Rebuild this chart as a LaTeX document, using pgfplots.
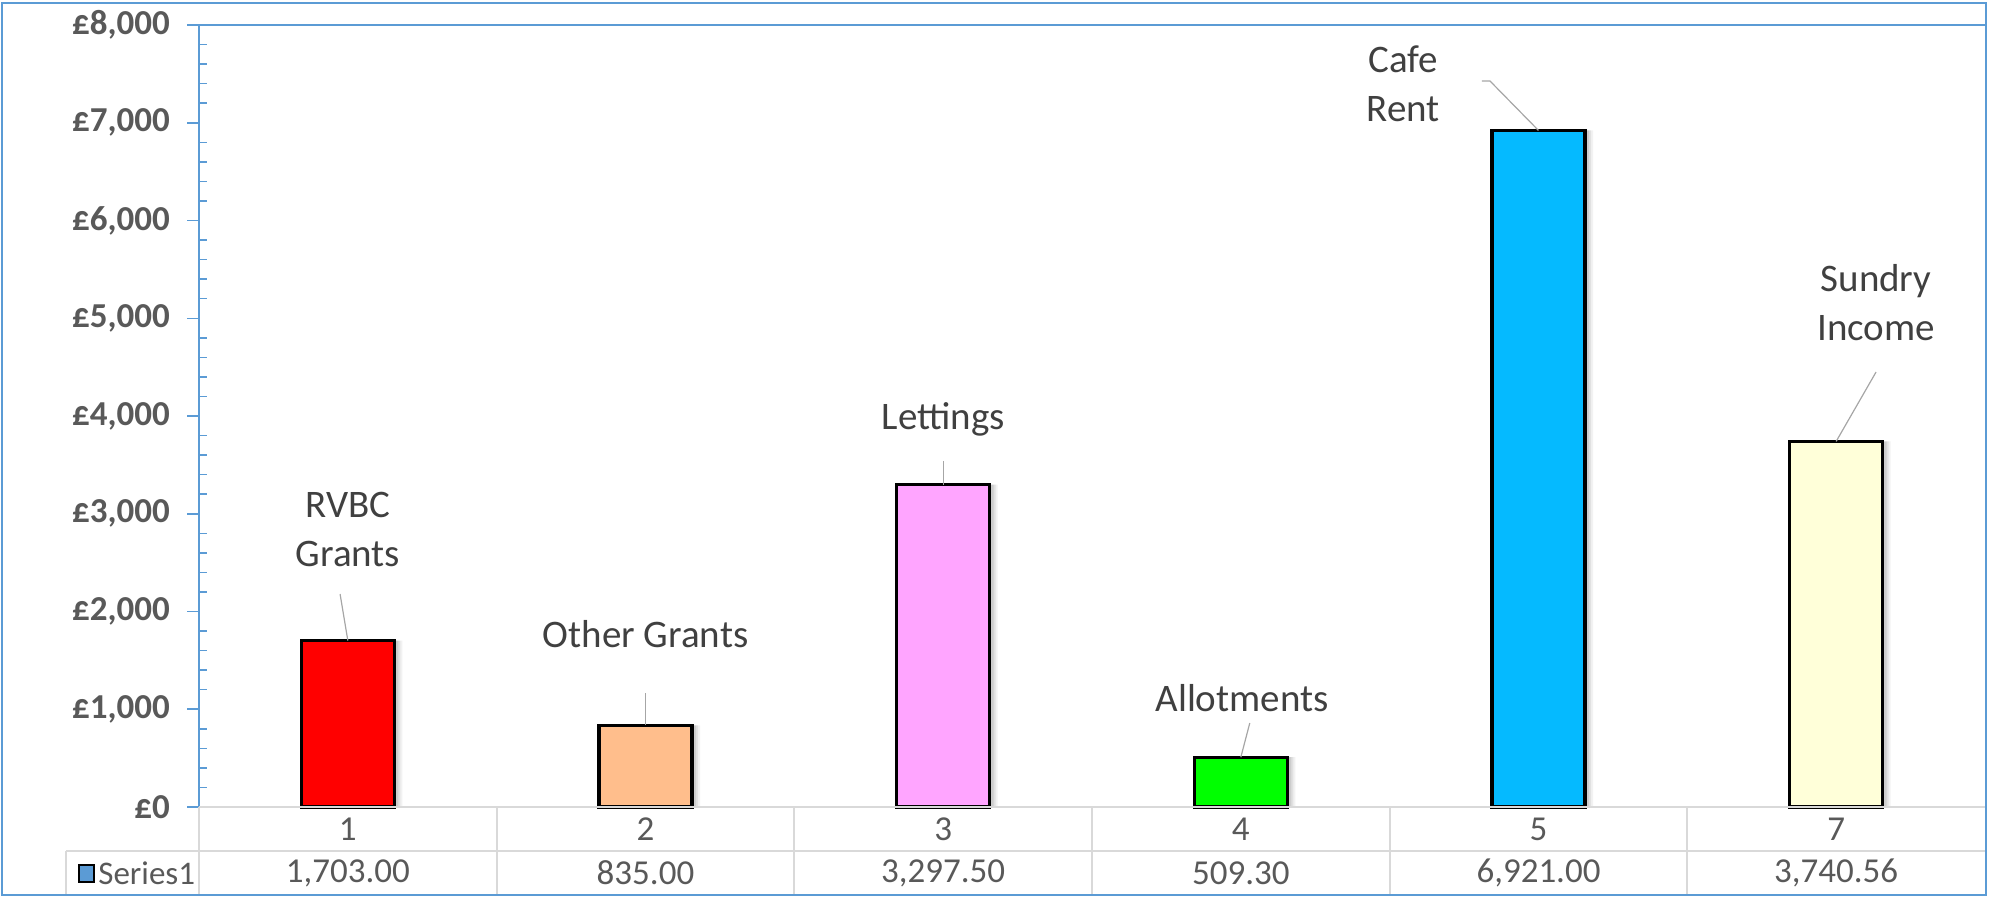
\documentclass[border=0pt]{standalone}
\usepackage{pgfplots}
\pgfplotsset{compat=1.18}
\usepackage{fontspec}
\setmainfont{Carlito}
\definecolor{frameblue}{HTML}{5B9BD5}
\definecolor{gridgray}{HTML}{D9D9D9}
\definecolor{ticktext}{HTML}{595959}
\definecolor{labeltext}{HTML}{404040}
\definecolor{leader}{HTML}{A6A6A6}
\definecolor{c1}{HTML}{FF0000}
\definecolor{c2}{HTML}{FFBE8C}
\definecolor{c3}{HTML}{FFA5FF}
\definecolor{c4}{HTML}{00FF00}
\definecolor{c5}{HTML}{05BAFF}
\definecolor{c6}{HTML}{FFFFD9}
\begin{document}
\begin{tikzpicture}[
  lab/.style={font=\fontsize{19.5}{24.5}\selectfont, text=labeltext, align=center},
  tab/.style={font=\fontsize{17.5}{21}\selectfont, text=ticktext},
  ld/.style={leader, line width=0.6pt},
  gl/.style={gridgray, line width=1pt}]
\useasboundingbox (0,0) rectangle (994.5pt,449pt);
\begin{axis}[
  at={(99.5pt,45.5pt)}, anchor=south west,
  width=893pt, height=391pt, scale only axis,
  xmin=0.5, xmax=6.5, ymin=0, ymax=8000,
  axis line style={draw=none},
  xtick={1,2,3,4,5,6}, xticklabels={1,2,3,4,5,7},
  xtick style={draw=none},
  xticklabel style={anchor=center, yshift=-5pt, font=\fontsize{17.5}{21}\selectfont, text=ticktext},
  ytick={0,1000,...,8000},
  minor y tick num=4,
  ytick pos=left,
  tick align=outside,
  major tick length=6pt, minor tick length=4pt,
  ytick style={draw=frameblue, line width=0.75pt},
  minor tick style={xshift=4pt},
  scaled y ticks=false,
  /pgf/number format/assume math mode=true,
  yticklabel={£\pgfmathprintnumber[fixed,precision=0,1000 sep={,}]{\tick}},
  yticklabel style={font=\fontsize{17.5}{20}\selectfont\bfseries, text=ticktext, xshift=-5pt},
  clip=false,
]
% shadows
\addplot[ybar, bar width=46.5pt, bar shift=2pt, fill=black, fill opacity=0.09, draw=none]
  coordinates {(1,1703) (2,835) (3,3297.5) (4,509.3) (5,6921) (6,3740.56)};
\addplot[ybar, bar width=46.5pt, bar shift=3pt, fill=black, fill opacity=0.07, draw=none]
  coordinates {(1,1703) (2,835) (3,3297.5) (4,509.3) (5,6921) (6,3740.56)};
\addplot[ybar, bar width=46.5pt, bar shift=4pt, fill=black, fill opacity=0.05, draw=none]
  coordinates {(1,1703) (2,835) (3,3297.5) (4,509.3) (5,6921) (6,3740.56)};
% bars
\addplot[ybar, bar width=46.5pt, bar shift=0pt, fill=c1, draw=black, line width=1.6pt] coordinates {(1,1703)};
\addplot[ybar, bar width=46.5pt, bar shift=0pt, fill=c2, draw=black, line width=1.6pt] coordinates {(2,835)};
\addplot[ybar, bar width=46.5pt, bar shift=0pt, fill=c3, draw=black, line width=1.6pt] coordinates {(3,3297.5)};
\addplot[ybar, bar width=46.5pt, bar shift=0pt, fill=c4, draw=black, line width=1.6pt] coordinates {(4,509.3)};
\addplot[ybar, bar width=46.5pt, bar shift=0pt, fill=c5, draw=black, line width=1.6pt] coordinates {(5,6921)};
\addplot[ybar, bar width=46.5pt, bar shift=0pt, fill=c6, draw=black, line width=1.6pt] coordinates {(6,3740.56)};
% axis lines
\draw[frameblue, line width=1pt] (rel axis cs:0,0) -- (rel axis cs:0,1);
\draw[frameblue, line width=1pt] (rel axis cs:0,1) -- (rel axis cs:1,1);
% data labels
\draw[ld] (axis cs:0.974,2179) -- (axis cs:1,1703);
\node[lab] at (axis cs:1,2844) {RVBC\\Grants};
\draw[ld] (axis cs:2,1166) -- (axis cs:2,835);
\node[lab] at (axis cs:2,1770) {Other Grants};
\draw[ld] (axis cs:3,3540) -- (axis cs:3,3297.5);
\node[lab] at (axis cs:3,3969) {Lettings};
\draw[ld] (axis cs:4.03,859) -- (axis cs:4,509.3);
\node[lab] at (axis cs:4.004,1115) {Allotments};
\draw[ld] (axis cs:4.81,7427) -- (axis cs:4.837,7427) -- (axis cs:5,6921);
\node[lab] at (axis cs:4.545,7396) {Cafe\\Rent};
\draw[ld] (axis cs:6.134,4450) -- (axis cs:6,3740.56);
\node[lab] at (axis cs:6.134,5156) {Sundry\\Income};
% data table
\draw[gl] (rel axis cs:0,0) -- (rel axis cs:1,0);
\draw[gl] ([xshift=-66.5pt,yshift=-22pt]rel axis cs:0,0) -- ([yshift=-22pt]rel axis cs:1,0);
\draw[gl] ([xshift=-66.5pt,yshift=-22pt]rel axis cs:0,0) -- ([xshift=-66.5pt,yshift=-44pt]rel axis cs:0,0);
\draw[gl] (rel axis cs:0,0) -- ([yshift=-44pt]rel axis cs:0,0);
\draw[gl] (rel axis cs:0.166667,0) -- ([yshift=-44pt]rel axis cs:0.166667,0);
\draw[gl] (rel axis cs:0.333333,0) -- ([yshift=-44pt]rel axis cs:0.333333,0);
\draw[gl] (rel axis cs:0.5,0) -- ([yshift=-44pt]rel axis cs:0.5,0);
\draw[gl] (rel axis cs:0.666667,0) -- ([yshift=-44pt]rel axis cs:0.666667,0);
\draw[gl] (rel axis cs:0.833333,0) -- ([yshift=-44pt]rel axis cs:0.833333,0);
\node[tab] at ([yshift=-33pt]axis cs:1,0) {1,703.00};
\node[tab] at ([yshift=-33pt]axis cs:2,0) {835.00};
\node[tab] at ([yshift=-33pt]axis cs:3,0) {3,297.50};
\node[tab] at ([yshift=-33pt]axis cs:4,0) {509.30};
\node[tab] at ([yshift=-33pt]axis cs:5,0) {6,921.00};
\node[tab] at ([yshift=-33pt]axis cs:6,0) {3,740.56};
\fill[frameblue, draw=black, line width=1pt] ([xshift=-60pt,yshift=-29pt]rel axis cs:0,0) rectangle ([xshift=-52.5pt,yshift=-37.5pt]rel axis cs:0,0);
\node[tab, font=\fontsize{16.5}{20}\selectfont, anchor=west, inner sep=0pt] at ([xshift=-50.5pt,yshift=-33pt]rel axis cs:0,0) {Series1};
\end{axis}
\draw[frameblue, line width=1pt] (1pt,1.5pt) rectangle (993pt,447.5pt);
\end{tikzpicture}
\end{document}
